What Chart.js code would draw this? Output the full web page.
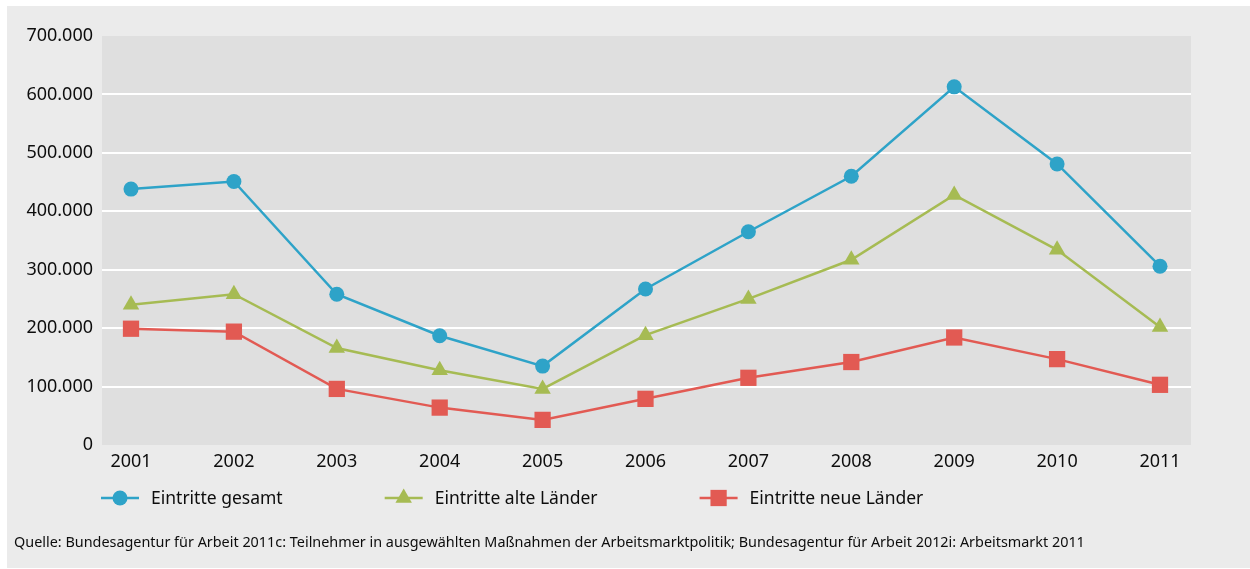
<!DOCTYPE html>
<html lang="de">
<head>
<meta charset="utf-8">
<title>Eintritte 2001–2011</title>
<script src="https://cdn.jsdelivr.net/npm/chart.js@4/dist/chart.umd.min.js"></script>
<style>
  html, body { margin: 0; padding: 0; background: #fff; }
  #wrap { width: 1250px; height: 569px; position: relative; }
</style>
</head>
<body>
<div id="wrap"><canvas id="chart"></canvas></div>
<script>
// Eintritte je Jahr
const years = ['2001', '2002', '2003', '2004', '2005', '2006', '2007', '2008', '2009', '2010', '2011'];
const gesamt = [438000, 451000, 258000, 187000, 135000, 267000, 365000, 460000, 613000, 481000, 306000];
const alteLaender = [240000, 258000, 166000, 128000, 96000, 188000, 250000, 317000, 428000, 334000, 202000];
const neueLaender = [199000, 194000, 96000, 64000, 43000, 79000, 115000, 142000, 184000, 147000, 103000];

const yTicks = [0, 100000, 200000, 300000, 400000, 500000, 600000, 700000];
const source = 'Quelle: Bundesagentur für Arbeit 2011c: Teilnehmer in ausgewählten Maßnahmen der Arbeitsmarktpolitik; Bundesagentur für Arbeit 2012i: Arbeitsmarkt 2011';

const FONT = '"Noto Sans", "Open Sans", sans-serif';
const INK = '#0d0d0d';

function fmt(v) {
  return String(v).replace(/(\d)(?=(\d{3})+$)/g, '$1.');
}

function series(label, data, color, style, radius) {
  return {
    label: label,
    data: data,
    borderColor: color,
    backgroundColor: color,
    borderWidth: 2.5,
    pointStyle: style,
    pointRadius: radius,
    pointHoverRadius: radius,
    pointBackgroundColor: color,
    pointBorderWidth: 0,
    tension: 0,
    clip: false
  };
}

/*--- background panel + white grid lines ---*/
const backdrop = {
  id: 'backdrop',
  beforeDraw(chart) {
    const {ctx, chartArea: a} = chart;
    const y = chart.scales.y;
    const left = a.left - 29, right = a.right + 31;
    ctx.save();
    ctx.fillStyle = '#ffffff';
    ctx.fillRect(0, 0, chart.width, chart.height);
    ctx.fillStyle = '#ebebeb';
    ctx.fillRect(7, 6, chart.width - 7, chart.height - 7);
    ctx.fillStyle = '#dfdfdf';
    ctx.fillRect(left, a.top, right - left, a.bottom - a.top);
    ctx.strokeStyle = '#ffffff';
    ctx.lineWidth = 2;
    y.ticks.forEach(t => {
      if (t.value <= y.min || t.value >= y.max) return;
      const py = Math.round(y.getPixelForValue(t.value));
      ctx.beginPath();
      ctx.moveTo(left, py);
      ctx.lineTo(right, py);
      ctx.stroke();
    });
    ctx.restore();
  }
};

/*--- legend row (line + marker) and source line ---*/
const footer = {
  id: 'footer',
  afterDraw(chart) {
    const ctx = chart.ctx;
    ctx.save();
    ctx.font = '17.5px ' + FONT;
    ctx.textBaseline = 'middle';
    ctx.textAlign = 'left';
    let x = 101;
    const ly = 498;
    chart.data.datasets.forEach(ds => {
      ctx.strokeStyle = ds.borderColor;
      ctx.lineWidth = 2.5;
      ctx.beginPath();
      ctx.moveTo(x, ly);
      ctx.lineTo(x + 38, ly);
      ctx.stroke();
      ctx.fillStyle = ds.backgroundColor;
      Chart.helpers.drawPoint(ctx, {
        pointStyle: ds.pointStyle,
        radius: ds.pointRadius,
        rotation: 0,
        borderWidth: 0
      }, x + 19, ly);
      ctx.fillStyle = INK;
      ctx.fillText(ds.label, x + 50, ly + 1);
      x += 50 + ctx.measureText(ds.label).width + 102;
    });
    ctx.font = '14.4px ' + FONT;
    ctx.fillText(source, 14, 543);
    ctx.restore();
  }
};

new Chart(document.getElementById('chart'), {
  type: 'line',
  data: {
    labels: years,
    datasets: [
      series('Eintritte gesamt', gesamt, '#2ea3c8', 'circle', 7.5),
      series('Eintritte alte Länder', alteLaender, '#a6bb53', 'triangle', 9.5),
      series('Eintritte neue Länder', neueLaender, '#e25a53', 'rect', 11.5)
    ]
  },
  options: {
    responsive: true,
    maintainAspectRatio: false,
    animation: false,
    layout: { padding: { top: 36, right: 90, bottom: 96, left: 0 } },
    plugins: {
      legend: { display: false },
      tooltip: { enabled: false }
    },
    scales: {
      x: {
        offset: false,
        grid: { display: false, drawTicks: false },
        border: { display: false },
        ticks: { color: INK, font: { family: FONT, size: 18 }, padding: 6, maxRotation: 0 },
        afterFit(scale) { scale.height = 28; }
      },
      y: {
        min: 0,
        max: 700000,
        afterBuildTicks(scale) { scale.ticks = yTicks.map(v => ({ value: v })); },
        grid: { display: false, drawTicks: false },
        border: { display: false },
        ticks: { color: INK, font: { family: FONT, size: 18 }, padding: 38, callback: v => fmt(v) },
        afterFit(scale) {
          // tick padding is only meant horizontally here
          scale.width = 131;
          scale.paddingTop = 11;
          scale.paddingBottom = 11;
        }
      }
    }
  },
  plugins: [backdrop, footer]
});
</script>
</body>
</html>
